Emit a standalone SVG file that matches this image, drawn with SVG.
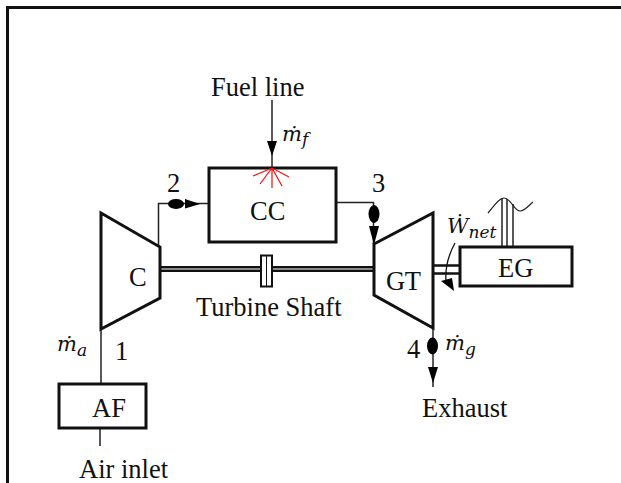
<svg xmlns="http://www.w3.org/2000/svg" width="621" height="483" viewBox="0 0 621 483">
<style>
text{font-family:"Liberation Serif","Times New Roman",serif;font-size:26.500px;fill:#111}
.m{font-family:"DejaVu Serif",serif;font-style:italic;font-size:21px}
.s{font-family:"DejaVu Serif",serif;font-style:italic;font-size:17px}
.box{fill:#fff;stroke:#111;stroke-width:3}
.th{fill:none;stroke:#222;stroke-width:1.5}
.red{stroke:#f01010;stroke-width:1.2;fill:none}
.k{fill:#000;stroke:none}
</style>
<rect width="621" height="483" fill="#fff"/>
<path d="M7.500 483V7.500H621" fill="none" stroke="#111" stroke-width="3"/>
<g id="connectors">
<path class="th" d="M272 100V168"/>
<path class="k" d="M267 141H277L272 156Z"/>
<path class="th" d="M158.500 247V203.500H209"/>
<ellipse class="k" cx="176" cy="204" rx="8" ry="5"/>
<path class="k" d="M185 199L200 204L185 208.500Z"/>
<path class="th" d="M336 202.500H373.500V244"/>
<ellipse class="k" cx="374" cy="214" rx="5.500" ry="9"/>
<path class="k" d="M369 226H379L374 245Z"/>
<path class="th" d="M101 329V384M100 428V446"/>
<path class="th" d="M433 328V387"/>
<ellipse class="k" cx="432.500" cy="346" rx="5.500" ry="8.500"/>
<path class="k" d="M428 367H438L433 383Z"/>
<path d="M161 267H373M161 271H373" stroke="#111" stroke-width="2" fill="none"/>
<path d="M161 269H373" stroke="#888" stroke-width="2" fill="none"/>
<path d="M433 265.500H460M433 273.500H460" stroke="#111" stroke-width="2.500" fill="none"/>
<path class="th" d="M502 247V199M507 247V199M513 247V204"/>
<path d="M488 213C494 206 499 198 504 198C511 198 514 211 520 211C525 211 529 205 533 202" fill="none" stroke="#222" stroke-width="1.200"/>
<path d="M455 243C449 254 445 268 446 281" fill="none" stroke="#111" stroke-width="1.300"/>
<path class="k" d="M441 281L452 278L454 291Z"/>
</g>
<g id="node-cc">
<rect class="box" x="209" y="168" width="127" height="74"/>
<path class="red" d="M272 168L253 176M272 168L260 184M272 168V188M272 168L282 186M272 168L289 177"/>
<text x="250" y="220">CC</text>
</g>
<g id="node-c">
<path class="box" d="M101 213L160 247V298L101 329Z"/>
<text x="129" y="286">C</text>
</g>
<g id="node-gt">
<path class="box" d="M374 244L433 213V328L374 295Z"/>
<text x="386" y="290" textLength="35">GT</text>
</g>
<g id="node-eg">
<rect class="box" x="460" y="247" width="112" height="39"/>
<text x="498" y="277">EG</text>
</g>
<g id="node-af">
<rect class="box" x="59" y="384" width="87" height="44"/>
<text x="92" y="417">AF</text>
</g>
<g id="node-coupling">
<rect x="261" y="255.500" width="11" height="31" fill="#fff" stroke="#111" stroke-width="2"/>
<path d="M266.500 255.500V286.500" stroke="#111" stroke-width="1"/>
</g>
<g id="labels">
<text x="211" y="96">Fuel line</text>
<text x="167" y="192">2</text>
<text x="372" y="192">3</text>
<text x="115" y="360">1</text>
<text x="407" y="358">4</text>
<text x="196" y="316">Turbine Shaft</text>
<text x="422" y="417">Exhaust</text>
<text x="79" y="478">Air inlet</text>
<text class="m" x="282" y="141">ṁ<tspan class="s" dy="4">f</tspan></text>
<text class="m" x="57" y="351">ṁ<tspan class="s" dy="5">a</tspan></text>
<text class="m" x="445" y="350">ṁ<tspan class="s" dy="5">g</tspan></text>
<text class="m" x="447" y="233">Ẇ<tspan class="s" dy="5">net</tspan></text>
</g>
</svg>
